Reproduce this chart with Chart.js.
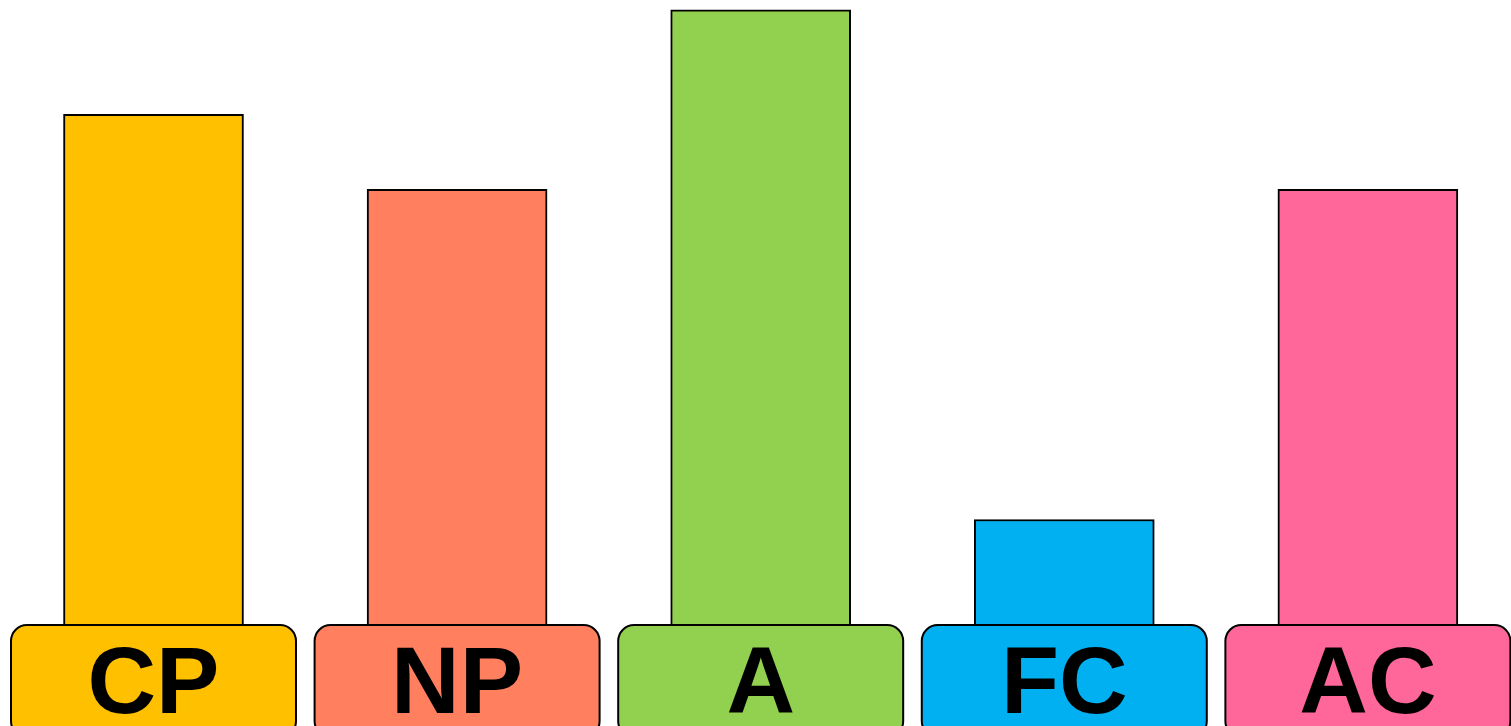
<!DOCTYPE html>
<html>
<head>
<meta charset="utf-8">
<script src="https://cdn.jsdelivr.net/npm/chart.js@4/dist/chart.umd.min.js"></script>
<style>
  html, body { margin: 0; padding: 0; background: #fff; }
  #wrap { width: 1511px; height: 726px; }
</style>
</head>
<body>
<div id="wrap"><canvas id="grafico"></canvas></div>
<script>
// categorias e valores
const categorias = ["CP", "NP", "A", "FC", "AC"];
const valores = [48.4, 41.3, 58.3, 10, 41.3];
const cores = ["#FFC000", "#FF7F5F", "#92D050", "#00B0F0", "#FF6699"];

// caixas arredondadas com os rótulos embaixo de cada barra
const caixasRotulo = {
  id: "caixasRotulo",
  afterDatasetsDraw(chart) {
    const ctx = chart.ctx;
    const x = chart.scales.x;
    const base = chart.chartArea.bottom;
    ctx.save();
    categorias.forEach((cat, i) => {
      const cx = x.getPixelForValue(i);
      const w = 285, h = 112, r = 16;
      ctx.beginPath();
      ctx.roundRect(cx - w / 2, base, w, h, r);
      ctx.fillStyle = cores[i];
      ctx.fill();
      ctx.lineWidth = 2;
      ctx.strokeStyle = "#000";
      ctx.stroke();
      ctx.fillStyle = "#000";
      ctx.font = "bold 95px 'Liberation Sans', Arial, sans-serif";
      ctx.textAlign = "center";
      ctx.textBaseline = "alphabetic";
      ctx.fillText(cat, cx, base + 88);
    });
    ctx.restore();
  }
};

const config = {
  type: "bar",
  data: {
    datasets: [{
      data: valores.map((v, i) => ({ x: i, y: v })),
      backgroundColor: cores,
      borderColor: "#000",
      borderWidth: 2,
      barThickness: 180
    }]
  },
  options: {
    responsive: true,
    maintainAspectRatio: false,
    animation: false,
    layout: { padding: { left: 0, right: 0, top: 0, bottom: 101 } },
    plugins: { legend: { display: false }, tooltip: { enabled: false } },
    scales: {
      x: { type: "linear", display: false, offset: false, min: -0.5056, max: 4.4714 },
      y: { display: false, min: 0, max: 59.24 }
    }
  },
  plugins: [caixasRotulo]
};

new Chart(document.getElementById("grafico"), config);
</script>
</body>
</html>
